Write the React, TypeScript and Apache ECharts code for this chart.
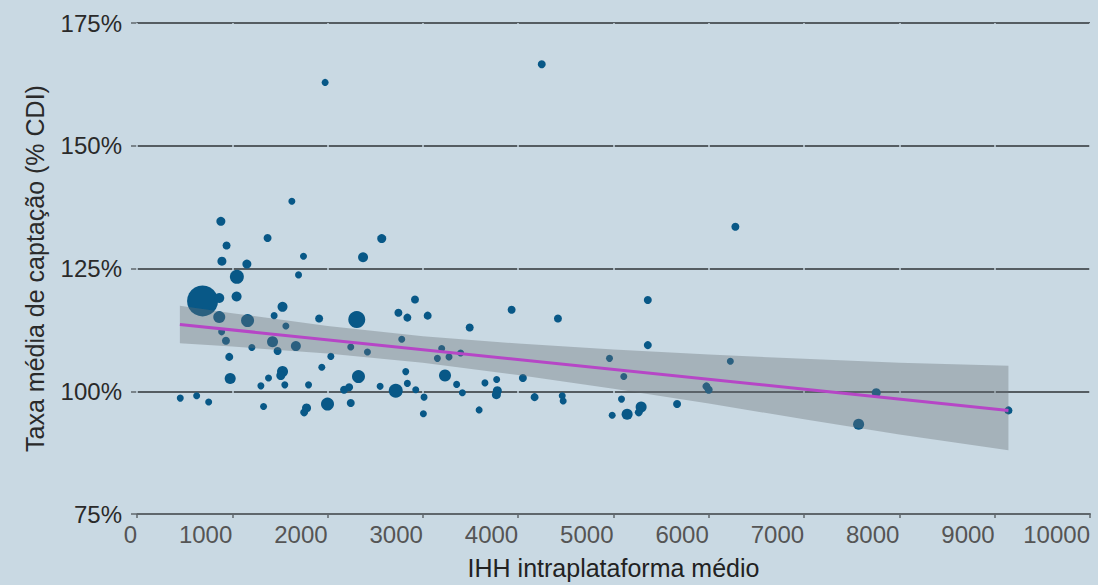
import React, { useEffect, useRef } from 'react';
import * as echarts from 'echarts';

// IHH intraplataforma médio (x), taxa média de captação % CDI (y), bubble radius (relative weight)
const ihh = [
  1974, 4247, 1625, 880, 1370, 940, 1747, 891, 1153, 1695,
  1048, 688, 863, 1045, 1527, 1439, 1911, 863, 1160, 888,
  1562, 933, 1422, 1205, 1475, 1667, 2034, 968, 1939, 1527,
  1509, 978, 1380, 1300, 1551, 1800, 454, 626, 752, 1328,
  1779, 1754, 1999, 2372, 2568, 2306, 2743, 2837, 2917, 3050,
  2418, 2243, 2778, 2324, 2820, 2837, 2551, 2715, 2925, 3012,
  3005, 2173, 2226, 2243, 3491, 3197, 3152, 3274, 3232, 3354,
  3651, 3774, 3781, 3771, 3414, 3590, 3931, 4417, 5360, 5360,
  6279, 3396, 4958, 5108, 6226, 5975, 5999, 4049, 4172, 4462,
  4472, 4986, 5084, 5143, 5265, 5290, 5667, 7572, 7757, 9144,
];
const taxa = [
  162.9, 166.6, 138.7, 134.6, 131.2, 129.7, 127.5, 126.5, 125.9, 123.7,
  123.3, 118.4, 119.0, 119.3, 117.2, 115.4, 114.8, 115.1, 114.4, 112.1,
  113.3, 110.3, 110.1, 108.9, 108.2, 109.2, 107.1, 107.0, 104.9, 104.0,
  103.2, 102.6, 102.7, 101.1, 101.3, 101.3, 98.6, 99.1, 97.8, 96.9,
  96.6, 95.7, 97.4, 127.3, 131.1, 114.6, 116.0, 115.0, 118.7, 115.4,
  108.0, 109.0, 110.6, 103.0, 104.0, 101.6, 101.0, 100.1, 100.3, 98.8,
  95.4, 100.3, 100.8, 97.6, 113.0, 108.7, 106.7, 107.0, 103.2, 101.4,
  101.7, 102.4, 100.1, 99.3, 99.7, 96.2, 116.6, 114.8, 118.6, 109.4,
  133.5, 107.8, 106.7, 103.0, 106.1, 101.0, 100.3, 102.7, 98.8, 99.1,
  98.0, 95.1, 98.4, 95.3, 95.7, 96.8, 97.4, 93.3, 99.7, 96.1,
];
const peso = [
  3, 3.5, 3, 4, 3.5, 3.5, 3, 4, 4, 3,
  6.5, 15, 4.5, 4.5, 4.5, 3, 3.5, 5.5, 6, 3,
  3, 3.5, 5, 3, 3.5, 4.5, 3, 3.5, 3, 5,
  4, 5, 3, 3, 3, 3, 3, 3, 3, 3,
  4, 3.5, 6, 4.5, 4, 8, 3.5, 3.5, 3.5, 3.5,
  3, 3, 3, 6, 3, 3, 3, 6.5, 3, 3,
  3, 3.5, 3.5, 3.5, 3.5, 3, 3, 3, 5.5, 3,
  3, 3, 4, 4, 3, 3, 3.5, 3.5, 3.5, 3.5,
  3.5, 3, 3, 3, 3, 3.5, 3.5, 3.5, 3.5, 3,
  3, 3, 3, 5, 3.5, 5, 3.5, 5, 4, 3.5,
];

// Linear fit and its confidence band
const fitX = [450, 9144];
const fitY = [113.6, 96.1];
const bandX = [450, 1000, 2000, 3000, 4000, 5000, 6000, 7000, 8000, 9144];
const bandLow = [109.8, 109.1, 107.7, 105.8, 103.3, 100.5, 97.5, 94.3, 91.2, 88.0];
const bandHigh = [117.4, 115.9, 113.3, 111.2, 109.7, 108.5, 107.5, 106.6, 105.8, 105.2];

const xMin = 0, xMax = 10000, xStep = 1000;
const yMin = 75, yMax = 175, yStep = 25;

const BG = '#c9d9e3';
const FONT = '"Liberation Sans", Arial, sans-serif';

export default function App() {
  const ref = useRef<HTMLDivElement>(null);
  useEffect(() => {
    if (!ref.current) return;
    const chart = echarts.init(ref.current, undefined, { renderer: 'svg' });
    const points = ihh.map((x, i) => [x, taxa[i], peso[i]]);
    chart.setOption({
      animation: false,
      backgroundColor: BG,
      textStyle: { fontFamily: FONT },
      grid: { left: 137, right: 8, top: 23, bottom: 67, containLabel: false },
      xAxis: {
        type: 'value',
        min: xMin,
        max: xMax,
        interval: xStep,
        z: 1,
        name: 'IHH intraplataforma médio',
        nameLocation: 'middle',
        nameGap: 41,
        nameTextStyle: { color: '#222', fontSize: 25, fontFamily: FONT },
        axisLine: { show: true, lineStyle: { color: '#5f676c', width: 2 } },
        axisTick: { show: true, length: 4, lineStyle: { color: '#5f676c', width: 1.5 } },
        axisLabel: {
          color: '#555',
          fontSize: 24,
          fontFamily: FONT,
          align: 'right',
          margin: 8,
          formatter: (v: number) => String(v),
        },
        splitLine: { show: true, lineStyle: { color: BG, width: 1.5 } },
      },
      yAxis: {
        type: 'value',
        min: yMin,
        max: yMax,
        interval: yStep,
        name: 'Taxa média de captação (% CDI)',
        nameLocation: 'middle',
        nameGap: 90,
        nameTextStyle: { color: '#2a2a2a', fontSize: 25, fontFamily: FONT },
        axisLine: { show: false },
        axisTick: { show: true, length: 6, lineStyle: { color: '#5f676c', width: 1.5 } },
        axisLabel: {
          color: '#2a2a2a',
          fontSize: 24,
          fontFamily: FONT,
          margin: 15,
          formatter: '{value}%',
        },
        splitLine: { show: true, lineStyle: { color: '#555d62', width: 2 } },
      },
      series: [
        {
          type: 'scatter',
          data: points,
          symbolSize: (v: number[]) => v[2] * 2 + 1,
          itemStyle: { color: '#085887', opacity: 1 },
          z: 2,
        },
        {
          type: 'custom',
          data: [[bandX[0], bandLow[0]]],
          z: 3,
          silent: true,
          renderItem: (_params: any, api: any) => {
            const pts: number[][] = [];
            bandX.forEach((x, i) => pts.push(api.coord([x, bandHigh[i]])));
            for (let i = bandX.length - 1; i >= 0; i--) pts.push(api.coord([bandX[i], bandLow[i]]));
            return {
              type: 'polygon',
              shape: { points: pts },
              style: { fill: 'rgba(104,111,116,0.37)' },
            };
          },
        },
        {
          type: 'line',
          data: fitX.map((x, i) => [x, fitY[i]]),
          showSymbol: false,
          symbol: 'none',
          lineStyle: { color: '#b646c6', width: 3 },
          z: 4,
        },
      ],
    });
    return () => chart.dispose();
  }, []);
  return (
    <div
      ref={ref}
      style={{ position: 'fixed', left: 0, top: 0, width: 1098, height: 585 }}
    />
  );
}
